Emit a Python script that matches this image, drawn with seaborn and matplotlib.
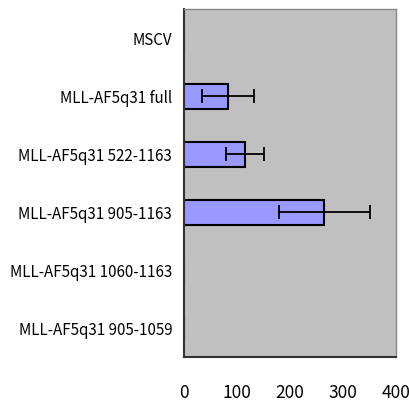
import matplotlib
matplotlib.use("Agg")
import matplotlib.pyplot as plt
import seaborn as sns
import numpy as np
import pandas as pd
from matplotlib.ticker import FixedLocator

categories = ["MSCV", "MLL-AF5q31 full", "MLL-AF5q31 522-1163", "MLL-AF5q31 905-1163",
              "MLL-AF5q31 1060-1163", "MLL-AF5q31 905-1059"]
values = [0, 83, 115, 265, 0, 0]
errors = [0, 49, 35, 85, 0, 0]
xticks = [0, 100, 200, 300, 400]

sns.set_style("white")
plt.rcParams['font.family'] = ['Noto Sans CJK JP', 'DejaVu Sans']

df = pd.DataFrame({"cat": categories, "val": values, "err": errors})

fig = plt.figure(figsize=(4.09, 4.07), dpi=100)
ax = fig.add_axes([184/409, 1 - 357/407, (396-184)/409, (357-9.3)/407])
ax.set_facecolor("#C0C0C0")

sns.barplot(data=df, y="cat", x="val", orient="h", color="#9999FF", saturation=1,
            edgecolor="black", linewidth=1.5, width=0.43, errorbar=None, ax=ax)
ypos = np.arange(len(categories))
mask = df["err"] > 0
ax.errorbar(df["val"][mask], ypos[mask], xerr=df["err"][mask], fmt="none",
            ecolor="black", elinewidth=1.3, capsize=5, capthick=1.3)

ax.set_xlim(0, 400)
ax.set_ylim(len(categories) - 0.5, -0.5)
ax.set_xticks(xticks)
ax.set_xticklabels([str(t) for t in xticks], fontsize=12.5, color="black")
ax.set_xlabel("")
ax.set_ylabel("")
ax.tick_params(axis="x", direction="in", length=5, width=1, pad=19.5, color="#333333")
ax.tick_params(axis="y", which="major", length=0, pad=8.5, labelsize=10.9, labelcolor="black")
ax.yaxis.set_minor_locator(FixedLocator(np.arange(-0.5, len(categories), 1)))
ax.tick_params(axis="y", which="minor", direction="in", length=5, width=1, color="#333333")

for side in ["left", "bottom"]:
    ax.spines[side].set_color("#333333")
    ax.spines[side].set_linewidth(1.5)
for side in ["top", "right"]:
    ax.spines[side].set_color("#888888")
    ax.spines[side].set_linewidth(1.0)

fig.savefig("out.png", dpi=100)
